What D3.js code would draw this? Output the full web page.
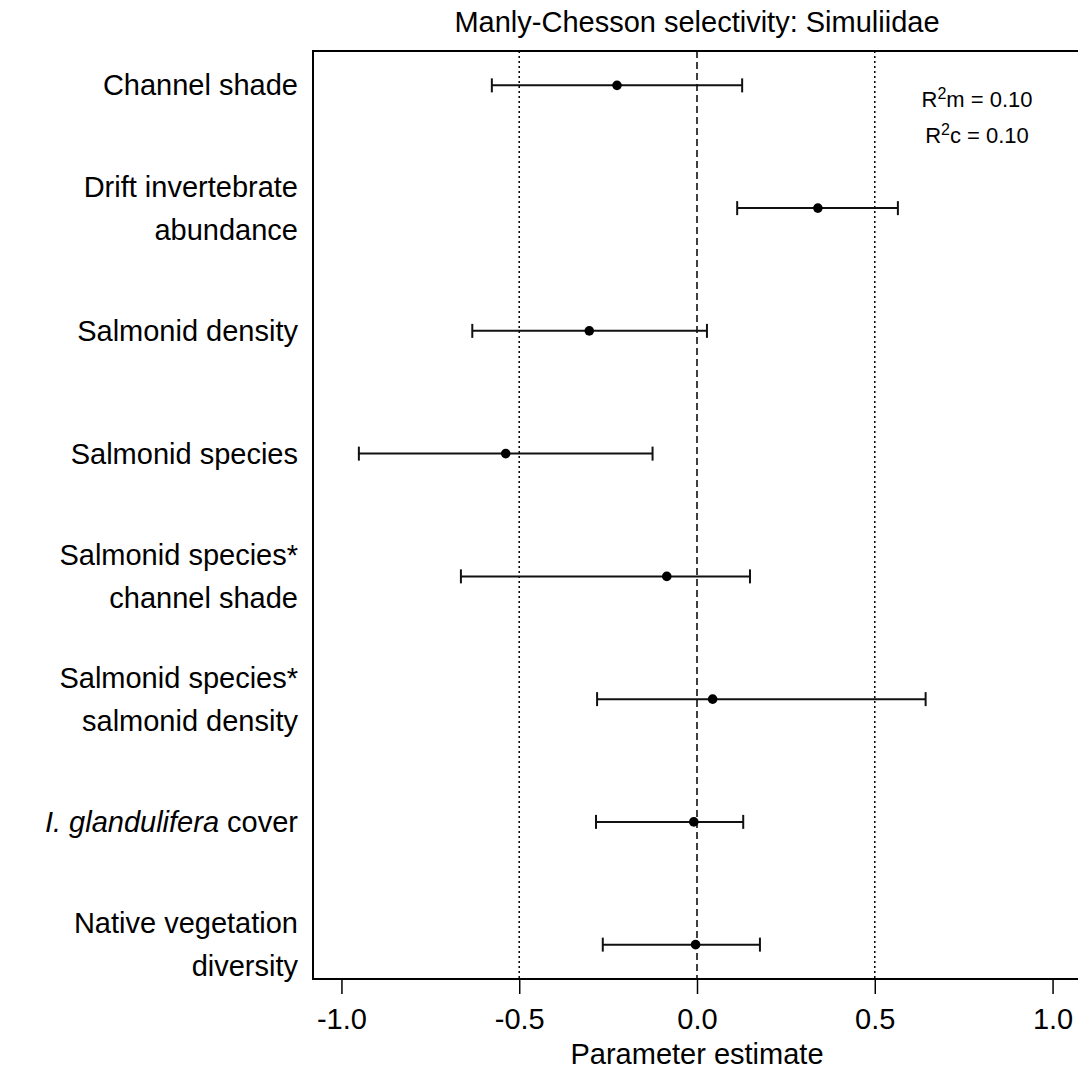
<!DOCTYPE html>
<html>
<head>
<meta charset="utf-8">
<script src="https://cdn.jsdelivr.net/npm/d3@7"></script>
<style>
  html, body { margin: 0; padding: 0; background: #fff; }
  svg { display: block; font-family: "Liberation Sans", Arial, Helvetica, sans-serif; }
</style>
</head>
<body>
<svg id="chart" width="1078" height="1073"></svg>
<script>
// Model terms, top to bottom ("\n" breaks a label over two lines)
const terms = [
  "Channel shade",
  "Drift invertebrate\nabundance",
  "Salmonid density",
  "Salmonid species",
  "Salmonid species*\nchannel shade",
  "Salmonid species*\nsalmonid density",
  "I. glandulifera cover",
  "Native vegetation\ndiversity"
];
// Species names set in italics inside labels
const italicNames = ["I. glandulifera"];

// Parameter estimates with lower / upper interval bounds
const estimate = [-0.225, 0.340, -0.303, -0.538, -0.085, 0.044, -0.009, -0.004];
const lower    = [-0.577, 0.113, -0.632, -0.951, -0.664, -0.281, -0.284, -0.265];
const upper    = [ 0.127, 0.565,  0.028, -0.125,  0.149,  0.643,  0.130,  0.177];

const xTicks = [-1.0, -0.5, 0.0, 0.5, 1.0];
const refLinesDotted = [-0.5, 0.5];
const refLineDashed = 0;

const title = "Manly-Chesson selectivity: Simuliidae";
const xTitle = "Parameter estimate";
const r2 = [{ sub: "m", value: "0.10" }, { sub: "c", value: "0.10" }];

const svg = d3.select("#chart");
const box = { left: 313, right: 1081, top: 51, bottom: 979 };
const fs = 29;

const x = d3.scaleLinear().domain([-1.08, 1.08]).range([box.left, box.right]);
const y = d3.scalePoint().domain(terms).range([box.top, box.bottom]).padding(0.28);

// Reference lines
svg.append("g").selectAll("line").data(refLinesDotted).join("line")
  .attr("x1", d => x(d)).attr("x2", d => x(d))
  .attr("y1", box.top).attr("y2", box.bottom)
  .attr("stroke", "#000").attr("stroke-width", 1.5)
  .attr("stroke-dasharray", "2,3");
svg.append("line")
  .attr("x1", x(refLineDashed)).attr("x2", x(refLineDashed))
  .attr("y1", box.top).attr("y2", box.bottom)
  .attr("stroke", "#000").attr("stroke-width", 1.5)
  .attr("stroke-dasharray", "7,4");

// Interval bars with end caps
const rows = terms.map((t, i) => ({ t, est: estimate[i], lo: lower[i], hi: upper[i] }));
const bars = svg.append("g").attr("stroke", "#111").attr("stroke-width", 2);
bars.selectAll("line.ci").data(rows).join("line").attr("class", "ci")
  .attr("x1", d => x(d.lo)).attr("x2", d => x(d.hi))
  .attr("y1", d => y(d.t)).attr("y2", d => y(d.t));
bars.selectAll("line.lo").data(rows).join("line").attr("class", "lo")
  .attr("x1", d => x(d.lo)).attr("x2", d => x(d.lo))
  .attr("y1", d => y(d.t) - 7).attr("y2", d => y(d.t) + 7);
bars.selectAll("line.hi").data(rows).join("line").attr("class", "hi")
  .attr("x1", d => x(d.hi)).attr("x2", d => x(d.hi))
  .attr("y1", d => y(d.t) - 7).attr("y2", d => y(d.t) + 7);
svg.append("g").selectAll("circle").data(rows).join("circle")
  .attr("cx", d => x(d.est)).attr("cy", d => y(d.t)).attr("r", 4.8)
  .attr("fill", "#000");

// Plot frame
svg.append("rect")
  .attr("x", box.left).attr("y", box.top)
  .attr("width", box.right - box.left).attr("height", box.bottom - box.top)
  .attr("fill", "none").attr("stroke", "#000").attr("stroke-width", 2);

// X axis
const xAxis = svg.append("g")
  .attr("transform", `translate(0,${box.bottom})`)
  .call(d3.axisBottom(x).tickValues(xTicks).tickSize(15).tickPadding(14)
    .tickFormat(d => d.toFixed(1)));
xAxis.select(".domain").remove();
xAxis.selectAll(".tick line").attr("stroke", "#000").attr("stroke-width", 1.5);
xAxis.selectAll(".tick text")
  .attr("fill", "#000")
  .style("font-family", "'Liberation Sans', Arial, sans-serif")
  .style("font-size", fs + "px");

// Term labels, right-aligned, multi-line centred on the row
const lineGap = 43;
const labels = svg.append("g")
  .attr("font-size", fs).attr("text-anchor", "end").attr("fill", "#000");
rows.forEach(r => {
  const lines = r.t.split("\n");
  lines.forEach((ln, k) => {
    const base = y(r.t) + 10 + (k - (lines.length - 1) / 2) * lineGap;
    const txt = labels.append("text").attr("x", 298).attr("y", base);
    const it = italicNames.find(n => ln.startsWith(n));
    if (it) {
      txt.append("tspan").attr("font-style", "italic").text(it);
      txt.append("tspan").text(ln.slice(it.length));
    } else {
      txt.text(ln);
    }
  });
});

// Titles
svg.append("text")
  .attr("x", (box.left + box.right) / 2).attr("y", 32)
  .attr("text-anchor", "middle").attr("font-size", fs)
  .text(title);
svg.append("text")
  .attr("x", (box.left + box.right) / 2).attr("y", 1064)
  .attr("text-anchor", "middle").attr("font-size", fs)
  .text(xTitle);

// Marginal / conditional R-squared
const r2g = svg.append("g").attr("font-size", 22).attr("text-anchor", "middle");
r2.forEach((d, i) => {
  const t = r2g.append("text").attr("x", 977).attr("y", 107 + i * 36);
  t.append("tspan").text("R");
  t.append("tspan").attr("font-size", 16).attr("dy", -8).text("2");
  t.append("tspan").attr("dy", 8).text(`${d.sub} = ${d.value}`);
});
</script>
</body>
</html>
